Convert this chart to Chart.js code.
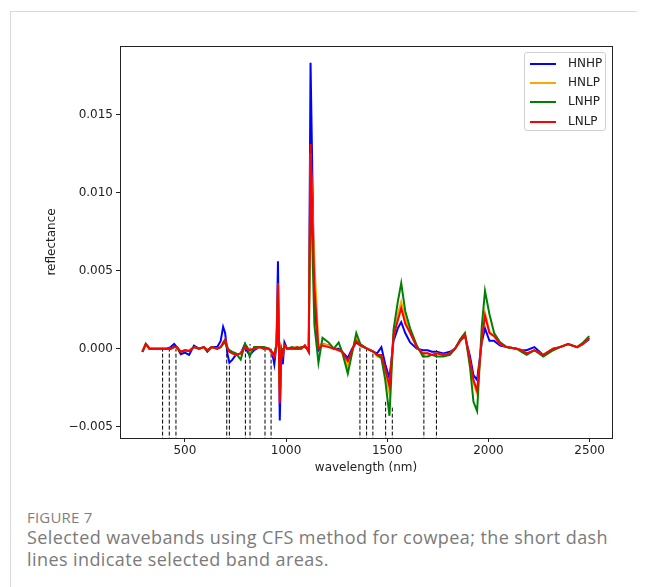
<!DOCTYPE html>
<html>
<head>
<meta charset="utf-8">
<script src="https://cdn.jsdelivr.net/npm/chart.js@4.4.1/dist/chart.umd.min.js"></script>
<style>
  body { margin: 0; background: #fff; }
  #page { position: relative; width: 646px; height: 587px; overflow: hidden; }
  #card { position: absolute; left: 10px; top: 11px; width: 626px; height: 580px;
          border-top: 1px solid #d9d9d9; border-left: 1px solid #d9d9d9; }
  #wrap { position: absolute; left: 0; top: 0; width: 646px; height: 480px; }
  #legend { position: absolute; left: 524px; top: 52px; width: 82px; height: 79px;
            border: 1px solid #d0d0d0; border-radius: 3px; background: rgba(255,255,255,0.8);
            font: 12px "DejaVu Sans"; color: #222; padding-top: 1px; box-sizing: border-box; }
  .row { position: relative; height: 19.2px; line-height: 19.2px; }
  .row i { position: absolute; left: 5px; top: 9px; width: 26px; height: 2px; }
  .row span { position: absolute; left: 43px; }
  #fig { position: absolute; left: 27px; top: 507px; font: 15px "Open Sans"; color: #7f7f7f;
         letter-spacing: 0.2px; }
  #cap { position: absolute; left: 27px; top: 526px; width: 600px; font: 18px/22px "Open Sans";
         letter-spacing: 0.42px; color: #7a7a7a; }
</style>
</head>
<body>
<div id="page">
  <div id="card"></div>
  <div id="wrap"><canvas id="spectra" width="646" height="480"></canvas></div>
  <div id="legend"></div>
  <div id="fig">FIGURE 7</div>
  <div id="cap">Selected wavebands using CFS method for cowpea; the short dash lines indicate selected band areas.</div>
</div>
<script>
// wavelength (nm)
const wavelength = [
  290, 307, 325, 350, 380, 410, 430, 447, 460, 480,
  500, 521, 545, 570, 594, 611, 632, 660, 677, 689,
  699, 710, 720, 735, 752, 776, 797, 809, 820, 842,
  867, 891, 915, 932, 942, 953, 960, 969, 977, 984,
  992, 1005, 1030, 1055, 1075, 1093, 1104, 1112, 1121, 1140,
  1160, 1180, 1210, 1236, 1260, 1277, 1305, 1326, 1347, 1367,
  1400, 1433, 1450, 1471, 1490, 1511, 1531, 1552, 1569, 1589,
  1613, 1646, 1676, 1700, 1720, 1745, 1777, 1810, 1835, 1860,
  1884, 1909, 1926, 1944, 1967, 1983, 2005, 2028, 2058, 2090,
  2139, 2164, 2189, 2227, 2271, 2320, 2353, 2394, 2438, 2468,
  2498
];

const hnhp = [
  -0.0002, 0.0003, 0, 0, 0, 0, 0.0001, 0.0003, 0.0001, -0.00035,
  -0.00025, -0.0004, 0.0002, 0, 0.0001, -0.0002, 0.0001, 0.0001, 0.0005, 0.0014,
  0.001, -0.0003, -0.0009, -0.0007, -0.0004, -0.0003, 0.0003, -0.0002, -0.0004, -0.0001,
  0.0001, 0, 0, -0.0003, -0.001, 0.0003, 0.0056, -0.0046, 0, -0.001,
  0.0004, 0, 0, 0, 0, 0.0002, 0, -0.0002, 0.0183, 0.003,
  -0.0001, 0.0003, 0.0002, 0, 0, -0.0002, -0.0006, 0, 0.0004, 0.0002,
  0, -0.0002, -0.0003, 0.0001, -0.001, -0.0019, 0.0005, 0.0013, 0.0017, 0.001,
  0.0004, 0, -0.0001, -0.0001, -0.0002, -0.0002, -0.0003, -0.0002, 0, 0.0005,
  0.0008, -0.0005, -0.0017, -0.002, 0.0004, 0.0013, 0.0005, 0.0005, 0.0002, 0.0001,
  0, -0.0001, -0.0001, 0.0001, -0.0004, 0, 0.0001, 0.0003, 0.0001, 0.0003,
  0.0006
];

const hnlp = [
  -0.0002, 0.0003, 0, 0, 0, 0, 0, 0.0001, 0.0001, -0.0002,
  -0.0001, -0.00015, 0.0001, 0, 0.0001, -0.0001, 0.0001, 0, 0.0001, 0.0003,
  0.0005, 0.0001, -0.0002, -0.0003, -0.0004, -0.0003, 0.0001, 0, -0.0001, 0,
  0.0001, 0, 0, -0.0003, -0.0005, 0.0003, 0.0038, -0.003, 0, -0.0003,
  0.0002, 0, 0, 0.0001, 0, 0.0002, 0, -0.0002, 0.0125, 0.0055,
  0.0002, 0.0003, 0.0002, 0, -0.0001, -0.0002, -0.0012, -0.0002, 0.0008, 0.0002,
  0, -0.0002, -0.0005, -0.0006, -0.0015, -0.0029, 0.0009, 0.0022, 0.003, 0.0019,
  0.0011, 0.0001, -0.0003, -0.0003, -0.0004, -0.0003, -0.0004, -0.0003, 0, 0.0005,
  0.0009, -0.0009, -0.0022, -0.0029, 0.0007, 0.0023, 0.0011, 0.0008, 0.0003, 0.0001,
  0, -0.0001, -0.0003, -0.0001, -0.0004, 0, 0.0001, 0.0003, 0.0001, 0.0003,
  0.0007
];

const lnhp = [
  -0.0002, 0.0003, 0, 0, 0, 0, 0, 0.0001, 0.0001, -0.0002,
  -0.0001, -0.00015, 0.0001, 0, 0.0001, -0.0001, 0.0001, 0, 0.0001, 0.0003,
  0.0004, 0, -0.0001, -0.0002, -0.0003, -0.0007, 0.0003, 0.0001, -0.0005, 0.0001,
  0.0001, 0.0001, 0, -0.0002, -0.0004, 0.0003, 0.0035, -0.0025, 0, -0.0002,
  0.0002, 0, 0.0001, 0, 0.0001, 0.0001, 0, -0.0002, 0.011, 0.0015,
  -0.0009, 0.0007, 0.0004, 0, 0.0004, -0.0002, -0.0016, -0.0003, 0.001, 0.0003,
  0, -0.0002, -0.0004, -0.0006, -0.002, -0.0043, 0.0012, 0.003, 0.0042, 0.0024,
  0.0013, 0.0002, -0.0005, -0.0005, -0.0004, -0.0005, -0.0005, -0.0004, 0, 0.0006,
  0.001, -0.0012, -0.0034, -0.004, 0.0014, 0.0037, 0.0022, 0.001, 0.0004, 0.0001,
  0, -0.0002, -0.0004, -0.0001, -0.0005, -0.0001, 0.0001, 0.0003, 0.0001, 0.0004,
  0.0008
];

const lnlp = [
  -0.0002, 0.0003, 0, 0, 0, 0, 0, 0.0001, 0.0001, -0.0002,
  -0.0001, -0.00015, 0.0001, 0, 0.0001, -0.0001, 0.0001, 0, 0.0001, 0.0004,
  0.0006, 0.0001, -0.0002, -0.0003, -0.0004, -0.0003, 0.0001, 0, -0.0001, 0,
  0.0001, 0, 0, -0.0003, -0.0005, 0.0003, 0.0042, -0.0035, 0, -0.0004,
  0.0002, 0, 0, 0.0001, 0, 0.0002, 0, -0.0002, 0.0131, 0.004,
  0, 0.0002, 0.0001, 0, -0.0001, -0.0002, -0.0008, -0.0001, 0.0005, 0.0002,
  0, -0.0002, -0.0004, -0.0004, -0.0013, -0.0024, 0.0008, 0.0018, 0.0026, 0.0016,
  0.001, 0.0001, -0.0003, -0.0003, -0.0004, -0.0003, -0.0004, -0.0003, 0, 0.0005,
  0.0009, -0.0008, -0.002, -0.0027, 0.0006, 0.0021, 0.001, 0.0008, 0.0003, 0.0001,
  0, -0.0001, -0.0003, -0.0001, -0.0004, 0, 0.0001, 0.0003, 0.0001, 0.0003,
  0.0007
];

// selected bands (short dash lines): position and the height they reach
const bandX = [390, 423, 456, 707, 720, 799, 822, 896, 926, 1365, 1398, 1429, 1492, 1525, 1681, 1743];
const bandTop = [0, 0, 0, 0, -0.0009, 0.0003, 0.0003, 0, 0, 0.0002, 0, -0.0002, -0.0034, -0.0037, -0.0003, -0.0001];

const seriesNames = ['HNHP', 'HNLP', 'LNHP', 'LNLP'];
const seriesValues = [hnhp, hnlp, lnhp, lnlp];
const seriesColors = ['#0000ff', '#ffa500', '#008000', '#ff0000'];

const xTicks = [500, 1000, 1500, 2000, 2500];
const yTicks = [-0.005, 0, 0.005, 0.010, 0.015];

const xMin = 179.5, xMax = 2610.5;
const yMin = -0.00572, yMax = 0.01938;

const datasets = seriesNames.map((name, k) => ({
  label: name,
  data: wavelength.map((w, i) => ({ x: w, y: seriesValues[k][i] })),
  borderColor: seriesColors[k],
  borderWidth: 2,
  pointRadius: 0,
  showLine: true,
  tension: 0,
  order: 4 - k
}));

const bandPts = [];
bandX.forEach((x, i) => {
  bandPts.push({ x: x, y: yMin - 0.001 }, { x: x, y: bandTop[i] }, { x: x, y: null });
});
datasets.push({
  label: 'bands',
  data: bandPts,
  borderColor: '#000',
  borderWidth: 1,
  borderDash: [4, 2],
  pointRadius: 0,
  showLine: true,
  spanGaps: false,
  order: 5
});

const frame = {
  id: 'frame',
  afterDatasetsDraw(chart) {
    const a = chart.chartArea;
    const c = chart.ctx;
    c.save();
    c.strokeStyle = '#222';
    c.lineWidth = 1;
    c.strokeRect(Math.round(a.left) + 0.5, Math.round(a.top) + 0.5,
      Math.round(a.right - a.left), Math.round(a.bottom - a.top));
    c.restore();
  }
};

const tickFont = { family: 'DejaVu Sans', size: 12 };

new Chart(document.getElementById('spectra'), {
  type: 'scatter',
  data: { datasets: datasets },
  plugins: [frame],
  options: {
    responsive: false,
    animation: false,
    devicePixelRatio: 1,
    layout: { padding: { left: 45, right: 34, top: 46, bottom: 5 } },
    plugins: { legend: { display: false }, tooltip: { enabled: false } },
    scales: {
      x: {
        type: 'linear',
        min: xMin,
        max: xMax,
        afterBuildTicks: axis => { axis.ticks = xTicks.map(v => ({ value: v })); },
        afterFit: axis => { axis.height = 37; },
        grid: { drawOnChartArea: false, tickLength: 4, tickColor: '#222' },
        border: { display: false },
        ticks: { font: tickFont, color: '#222', padding: 2, maxRotation: 0,
                 callback: v => String(v) },
        title: { display: true, text: 'wavelength (nm)', font: tickFont, color: '#222',
                 padding: 0 }
      },
      y: {
        min: yMin,
        max: yMax,
        afterBuildTicks: axis => { axis.ticks = yTicks.map(v => ({ value: v })); },
        afterFit: axis => { axis.width = 75; },
        grid: { drawOnChartArea: false, tickLength: 4, tickColor: '#222' },
        border: { display: false },
        ticks: { font: tickFont, color: '#222', padding: 3,
                 callback: v => (v < 0 ? '\u2212' : '') + Math.abs(v).toFixed(3) },
        title: { display: true, text: 'reflectance', font: tickFont, color: '#222',
                 padding: 0 }
      }
    }
  }
});

// legend inside the axes, upper right
const legend = document.getElementById('legend');
seriesNames.forEach((name, k) => {
  const row = document.createElement('div');
  row.className = 'row';
  row.innerHTML = '<i style="background:' + seriesColors[k] + '"></i><span>' + name + '</span>';
  legend.appendChild(row);
});
</script>
</body>
</html>
